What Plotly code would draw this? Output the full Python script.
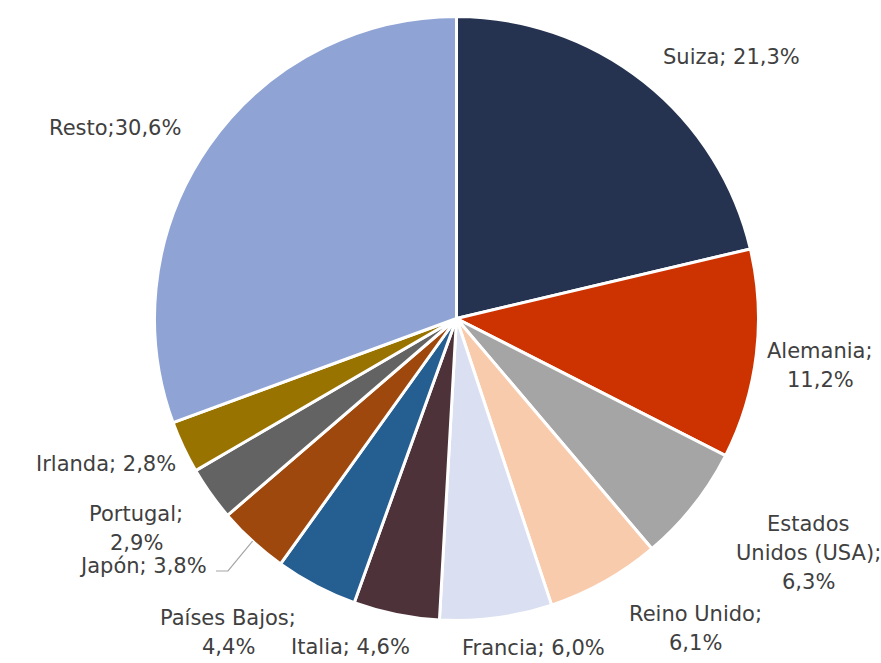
import math
import plotly.graph_objects as go

# Share by country
countries = ["Suiza", "Alemania", "Estados Unidos (USA)", "Reino Unido", "Francia",
             "Italia", "Países Bajos", "Japón", "Portugal", "Irlanda", "Resto"]
shares = [21.3, 11.2, 6.3, 6.1, 6.0, 4.6, 4.4, 3.8, 2.9, 2.8, 30.6]
colors = ["#253350", "#CC3300", "#A5A5A5", "#F8CBAD", "#DAE0F2", "#4E323A",
          "#255E91", "#9E480E", "#636363", "#997300", "#8FA4D4"]

W, H = 881, 663
CX, CY, R = 456.5, 318.5, 302.0

# label layout: line breaks and block centre (pixels)
label_lines = {
    "Suiza": (["{n}; {v}"], 731, 57),
    "Alemania": (["{n};", "{v}"], 820, 365),
    "Estados Unidos (USA)": (["Estados", "Unidos (USA);", "{v}"], 808, 553),
    "Reino Unido": (["{n};", "{v}"], 695, 628),
    "Francia": (["{n}; {v}"], 533, 648),
    "Italia": (["{n}; {v}"], 350, 647),
    "Países Bajos": (["{n};", "{v}"], 228, 632),
    "Japón": (["{n}; {v}"], 143, 566),
    "Portugal": (["{n};", "{v}"], 136, 528),
    "Irlanda": (["{n}; {v}"], 106, 464),
    "Resto": (["{n};{v}"], 115, 128),
}
LINE_GAP = 29
FONT = dict(family="DejaVu Sans", size=21, color="#404040")

fig = go.Figure(go.Pie(
    labels=countries,
    values=shares,
    sort=False,
    direction="clockwise",
    rotation=0,
    marker=dict(colors=colors, line=dict(color="white", width=3)),
    textinfo="none",
    hoverinfo="label+percent",
    showlegend=False,
    domain=dict(x=[(CX - R) / W, (CX + R) / W],
                y=[(H - CY - R) / H, (H - CY + R) / H]),
))

annotations = []
for name, val in zip(countries, shares):
    lines, bx, by = label_lines[name]
    vtxt = f"{val:.1f}%".replace(".", ",")
    n = len(lines)
    for i, ln in enumerate(lines):
        ty = by + (i - (n - 1) / 2) * LINE_GAP
        annotations.append(dict(
            x=bx / W, y=1 - ty / H, xref="paper", yref="paper",
            text=ln.format(n=name, v=vtxt), showarrow=False,
            font=FONT, xanchor="center", yanchor="middle", borderpad=0,
        ))

# leader line for Japón, from the slice's outer edge midpoint to its label
idx = countries.index("Japón")
start = sum(shares[:idx])
mid = (start + shares[idx] / 2) / sum(shares) * 2 * math.pi
ex = CX + R * math.sin(mid)
ey = CY - R * math.cos(mid)
lx = 143 + 73
path = f"M {ex / W},{1 - ey / H} L {(lx + 12) / W},{1 - 571 / H} L {lx / W},{1 - 571 / H}"
fig.add_shape(type="path", xref="paper", yref="paper", path=path,
              line=dict(color="#A6A6A6", width=1.2))

fig.update_layout(
    width=W, height=H,
    margin=dict(l=0, r=0, t=0, b=0),
    paper_bgcolor="white",
    plot_bgcolor="white",
    annotations=annotations,
)

fig.write_html("out.html")
